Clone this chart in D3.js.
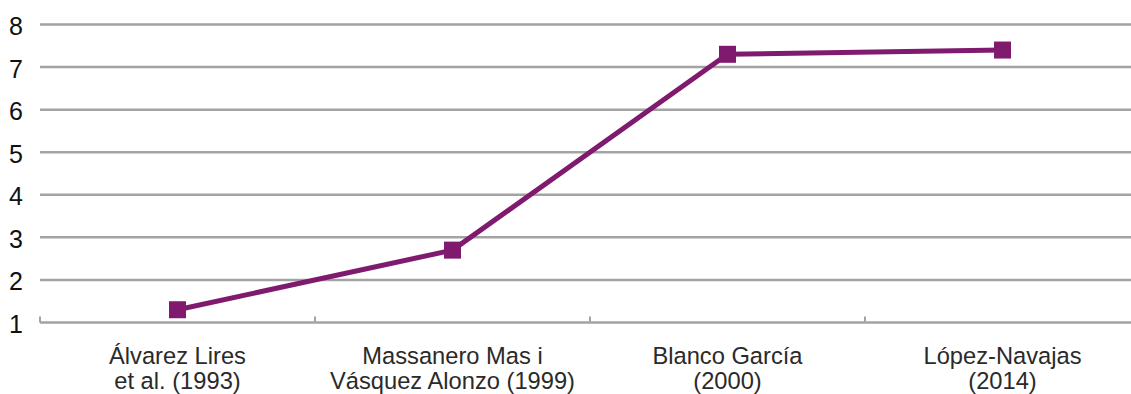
<!DOCTYPE html>
<html>
<head>
<meta charset="utf-8">
<script src="https://cdn.jsdelivr.net/npm/d3@7"></script>
<style>
  html, body { margin: 0; padding: 0; background: #ffffff; }
  svg { display: block; font-family: "Liberation Sans", Arial, sans-serif; }
</style>
</head>
<body>
<svg id="chart" width="1131" height="394"></svg>
<script>
// Studies compared, in chronological order (two-line labels)
const categories = [
  ["Álvarez Lires", "et al. (1993)"],
  ["Massanero Mas i", "Vásquez Alonzo (1999)"],
  ["Blanco García", "(2000)"],
  ["López-Navajas", "(2014)"]
];
const values = [1.3, 2.7, 7.3, 7.4];
const yTicks = [1, 2, 3, 4, 5, 6, 7, 8];

const svg = d3.select("#chart");
const plotLeft = 40, plotRight = 1140, plotTop = 24.5, plotBottom = 322.5;

const x = d3.scaleBand()
  .domain(d3.range(categories.length))
  .range([plotLeft, plotRight])
  .paddingInner(0).paddingOuter(0);

const y = d3.scaleLinear().domain([1, 8]).range([plotBottom, plotTop]);

const gridColor = "#a3a3a6";
const lineColor = "#7f1a6f";

// horizontal gridlines (value 1 acts as the category axis)
svg.append("g")
  .selectAll("line")
  .data(yTicks)
  .join("line")
  .attr("x1", plotLeft)
  .attr("x2", 1131)
  .attr("y1", d => y(d))
  .attr("y2", d => y(d))
  .attr("stroke", gridColor)
  .attr("stroke-width", 2.5);

// category separator ticks on the axis
svg.append("g")
  .selectAll("line")
  .data(d3.range(categories.length))
  .join("line")
  .attr("x1", d => x(d))
  .attr("x2", d => x(d))
  .attr("y1", y(1))
  .attr("y2", y(1) - 6)
  .attr("stroke", gridColor)
  .attr("stroke-width", 2);

// y tick labels
svg.append("g")
  .selectAll("text")
  .data(yTicks)
  .join("text")
  .attr("x", 23)
  .attr("y", d => y(d) + 1.5)
  .attr("text-anchor", "end")
  .attr("dominant-baseline", "central")
  .attr("font-size", 25)
  .attr("fill", "#111111")
  .text(d => d);

// category labels
const labels = svg.append("g")
  .selectAll("text")
  .data(categories)
  .join("text")
  .attr("x", (d, i) => x(i) + x.bandwidth() / 2)
  .attr("y", 364)
  .attr("text-anchor", "middle")
  .attr("font-size", 23.7)
  .attr("fill", "#2a2a2a");
labels.selectAll("tspan")
  .data(d => d)
  .join("tspan")
  .attr("x", function () { return d3.select(this.parentNode).attr("x"); })
  .attr("dy", (d, i) => i === 0 ? 0 : 25)
  .text(d => d);

const cx = i => x(i) + x.bandwidth() / 2;

// series line
svg.append("path")
  .datum(values)
  .attr("fill", "none")
  .attr("stroke", lineColor)
  .attr("stroke-width", 5)
  .attr("stroke-linejoin", "round")
  .attr("d", d3.line().x((d, i) => cx(i)).y(d => y(d)));

// square markers
const s = 17;
svg.append("g")
  .selectAll("rect")
  .data(values)
  .join("rect")
  .attr("x", (d, i) => cx(i) - s / 2)
  .attr("y", d => y(d) - s / 2)
  .attr("width", s)
  .attr("height", s)
  .attr("fill", lineColor);
</script>
</body>
</html>
